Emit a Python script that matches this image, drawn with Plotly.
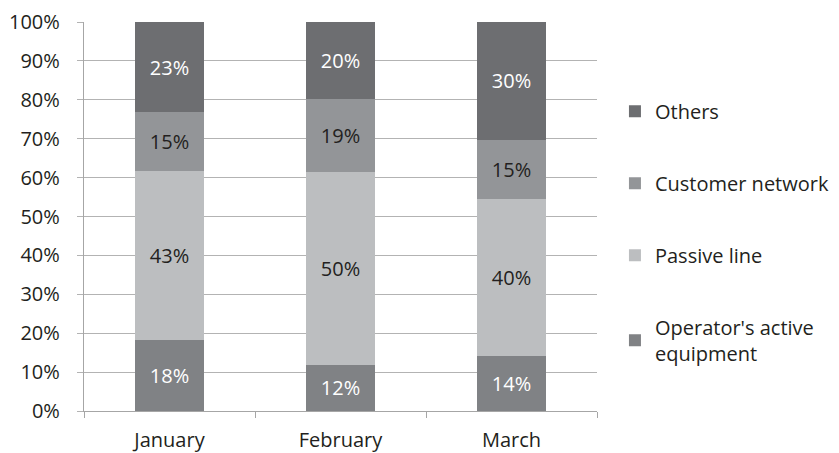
import plotly.graph_objects as go

months = ["January", "February", "March"]
series_names = ["Operator's active<br>equipment", "Passive line", "Customer network", "Others"]
operator_active = [18, 12, 14]
passive_line = [43, 50, 40]
customer_network = [15, 19, 15]
others = [23, 20, 30]
y_ticks = [0, 10, 20, 30, 40, 50, 60, 70, 80, 90, 100]
y_tick_labels = [f"{v}%" for v in y_ticks]

series_values = [operator_active, passive_line, customer_network, others]
colors = ["#808285", "#bcbec0", "#939598", "#6d6e71"]
text_colors = ["white", "#231f20", "#231f20", "white"]

FONT = "Open Sans"
fig = go.Figure()
for i, (name, vals) in enumerate(zip(series_names, series_values)):
    fig.add_trace(go.Bar(
        x=months, y=vals, name=name, legendgroup=str(i), legendrank=10 - i,
        marker=dict(color=colors[i], line=dict(width=0)),
        text=[f"{v}%" for v in vals], textposition="inside",
        insidetextanchor="middle",
        textfont=dict(family=FONT, size=20, color=text_colors[i]),
        hoverinfo="skip",
    ))

fig.update_layout(
    width=831, height=445,
    barmode="stack", barnorm="percent", bargap=0.6,
    plot_bgcolor="white", paper_bgcolor="white",
    margin=dict(l=76, r=242, t=14, b=42, autoexpand=False),
    font=dict(family=FONT, size=20, color="#231f20"),
    uniformtext=dict(mode="show", minsize=20),
    legend=dict(
        x=1.035, xanchor="left", y=0.821, yanchor="top",
        traceorder="grouped", tracegroupgap=43,
        font=dict(family=FONT, size=20, color="#231f20"),
        itemclick=False,
    ),
    xaxis=dict(
        showline=True, linecolor="#a6a6a6", linewidth=1.3, automargin=False,
        ticks="outside", tickson="boundaries", ticklen=6, tickcolor="#a6a6a6",
        showgrid=False, tickfont=dict(size=20), ticklabelstandoff=11,
    ),
    yaxis=dict(
        range=[0, 100], tickvals=y_ticks, ticktext=y_tick_labels, automargin=False,
        showgrid=True, gridcolor="#b3b3b3", gridwidth=1.3,
        showline=True, linecolor="#a6a6a6", linewidth=1.3,
        ticks="outside", ticklen=6, tickcolor="#b3b3b3",
        zeroline=False, tickfont=dict(size=20), ticklabelstandoff=13,
    ),
)

fig.write_html("out.html")
